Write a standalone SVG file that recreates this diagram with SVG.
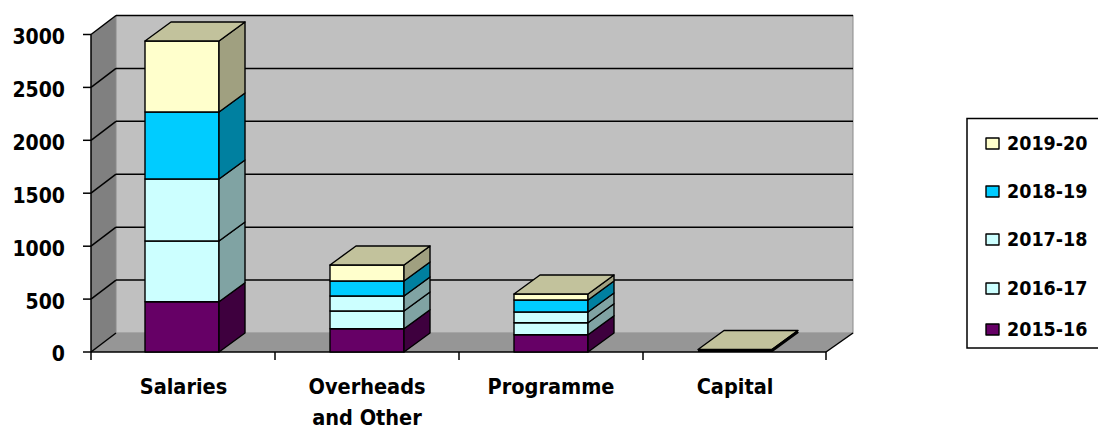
<svg xmlns="http://www.w3.org/2000/svg" width="1098" height="428" viewBox="0 0 1098 428">
<style>
.t{font-family:"DejaVu Sans Condensed","DejaVu Sans","Liberation Sans",sans-serif;font-stretch:condensed;font-weight:bold;fill:#000}
.ax{font-size:21px;text-anchor:end}
.cat{font-size:21.5px;text-anchor:middle}
.lg{font-size:19.5px}
.e{stroke:#000;stroke-width:1.4;stroke-linejoin:round}
.grid{stroke:#000;stroke-width:1.5}
.c1{fill:#660066}.s1{fill:#3e003e}
.c2{fill:#ccffff}.s2{fill:#80a3a3}
.c3{fill:#ccffff}.s3{fill:#80a3a3}
.c4{fill:#00ccff}.s4{fill:#0080a0}
.c5{fill:#ffffcc}.s5{fill:#a0a080}
.top{fill:#c2c29c}
</style>
<rect width="1098" height="428" fill="#fff"/>
<g id="plot-area">
  <polygon points="91,34.5 116,15.5 116,333 91,352" fill="#808080"/>
  <rect x="116" y="15.5" width="737" height="317.5" fill="#c0c0c0" stroke="#8a8a8a" stroke-width="1"/>
  <polygon points="91,352 116,333 853,333 826,352" fill="#969696"/>
  <g class="grid" fill="none">
    <line x1="116" y1="15.5" x2="853" y2="15.5"/>
    <line x1="116" y1="68.4" x2="853" y2="68.4"/>
    <line x1="116" y1="121.3" x2="853" y2="121.3"/>
    <line x1="116" y1="174.2" x2="853" y2="174.2"/>
    <line x1="116" y1="227.2" x2="853" y2="227.2"/>
    <line x1="116" y1="280.1" x2="853" y2="280.1"/>
    <line x1="91" y1="34.5" x2="116" y2="15.5"/>
    <line x1="91" y1="87.4" x2="116" y2="68.4"/>
    <line x1="91" y1="140.3" x2="116" y2="121.3"/>
    <line x1="91" y1="193.2" x2="116" y2="174.2"/>
    <line x1="91" y1="246.2" x2="116" y2="227.2"/>
    <line x1="91" y1="299.1" x2="116" y2="280.1"/>
    <line x1="91" y1="352" x2="116" y2="333"/>
  </g>
  <g stroke="#000" stroke-width="1.5" fill="none">
    <line x1="91" y1="34.5" x2="91" y2="352"/>
    <line x1="83" y1="352" x2="826" y2="352"/>
    <line x1="826" y1="352" x2="853" y2="333"/>
    <line x1="83" y1="34.5" x2="91" y2="34.5"/>
    <line x1="83" y1="87.4" x2="91" y2="87.4"/>
    <line x1="83" y1="140.3" x2="91" y2="140.3"/>
    <line x1="83" y1="193.2" x2="91" y2="193.2"/>
    <line x1="83" y1="246.2" x2="91" y2="246.2"/>
    <line x1="83" y1="299.1" x2="91" y2="299.1"/>
    <line x1="91" y1="352" x2="91" y2="360"/>
    <line x1="275" y1="352" x2="275" y2="360"/>
    <line x1="459" y1="352" x2="459" y2="360"/>
    <line x1="643" y1="352" x2="643" y2="360"/>
    <line x1="826" y1="352" x2="826" y2="360"/>
  </g>
</g>
<g id="y-axis-labels" class="t ax">
  <text x="65" y="44">3000</text>
  <text x="65" y="96.5">2500</text>
  <text x="65" y="149.5">2000</text>
  <text x="65" y="202.5">1500</text>
  <text x="65" y="255.5">1000</text>
  <text x="65" y="308.5">500</text>
  <text x="65" y="360.5">0</text>
</g>
<g id="connectors"></g>
<g id="bar-salaries" class="e">
  <rect class="c1" x="145" y="301.7" width="74" height="50.3"/>
  <polygon class="s1" points="219,352 245,333 245,282.7 219,301.7"/>
  <rect class="c2" x="145" y="241" width="74" height="60.7"/>
  <polygon class="s2" points="219,301.7 245,282.7 245,222 219,241"/>
  <rect class="c3" x="145" y="179" width="74" height="62"/>
  <polygon class="s3" points="219,241 245,222 245,160 219,179"/>
  <rect class="c4" x="145" y="112" width="74" height="67"/>
  <polygon class="s4" points="219,179 245,160 245,93 219,112"/>
  <rect class="c5" x="145" y="41" width="74" height="71"/>
  <polygon class="s5" points="219,112 245,93 245,22 219,41"/>
  <polygon class="top" points="145,41 219,41 245,22 171,22"/>
</g>
<g id="bar-overheads" class="e">
  <rect class="c1" x="330" y="328.7" width="74" height="23.3"/>
  <polygon class="s1" points="404,352 430,333 430,309.7 404,328.7"/>
  <rect class="c2" x="330" y="311" width="74" height="17.7"/>
  <polygon class="s2" points="404,328.7 430,309.7 430,292 404,311"/>
  <rect class="c3" x="330" y="296" width="74" height="15"/>
  <polygon class="s3" points="404,311 430,292 430,277 404,296"/>
  <rect class="c4" x="330" y="281" width="74" height="15"/>
  <polygon class="s4" points="404,296 430,277 430,262 404,281"/>
  <rect class="c5" x="330" y="265" width="74" height="16"/>
  <polygon class="s5" points="404,281 430,262 430,246 404,265"/>
  <polygon class="top" points="330,265 404,265 430,246 356,246"/>
</g>
<g id="bar-programme" class="e">
  <rect class="c1" x="514" y="334.7" width="74" height="17.3"/>
  <polygon class="s1" points="588,352 614,333 614,315.7 588,334.7"/>
  <rect class="c2" x="514" y="322.7" width="74" height="12"/>
  <polygon class="s2" points="588,334.7 614,315.7 614,303.7 588,322.7"/>
  <rect class="c3" x="514" y="312" width="74" height="10.7"/>
  <polygon class="s3" points="588,322.7 614,303.7 614,293 588,312"/>
  <rect class="c4" x="514" y="300" width="74" height="12"/>
  <polygon class="s4" points="588,312 614,293 614,281 588,300"/>
  <rect class="c5" x="514" y="294" width="74" height="6"/>
  <polygon class="s5" points="588,300 614,281 614,275 588,294"/>
  <polygon class="top" points="514,294 588,294 614,275 540,275"/>
</g>
<g id="bar-capital">
  <polygon class="top e" points="698,349.5 772,349.5 798,330.5 724,330.5"/>
  <polyline points="698,350.5 772,350.5 798,331.5" fill="none" stroke="#000" stroke-width="3" stroke-linejoin="round"/>
</g>
<g id="category-labels" class="t cat">
  <text x="183.5" y="394">Salaries</text>
  <text x="367" y="394">Overheads</text>
  <text x="367" y="425">and Other</text>
  <text x="551" y="394">Programme</text>
  <text x="735" y="394">Capital</text>
</g>
<g id="legend">
  <rect x="967" y="118.5" width="140" height="229.5" fill="#fff" stroke="#000" stroke-width="1.5"/>
  <g class="e">
    <rect class="c5" x="986" y="138" width="13" height="11"/>
    <rect class="c4" x="986" y="186" width="13" height="11"/>
    <rect class="c3" x="986" y="234" width="13" height="11"/>
    <rect class="c2" x="986" y="283" width="13" height="11"/>
    <rect class="c1" x="986" y="324" width="13" height="11"/>
  </g>
  <g class="t lg">
    <text x="1007" y="150">2019-20</text>
    <text x="1007" y="198">2018-19</text>
    <text x="1007" y="246">2017-18</text>
    <text x="1007" y="295">2016-17</text>
    <text x="1007" y="336">2015-16</text>
  </g>
</g>
</svg>
